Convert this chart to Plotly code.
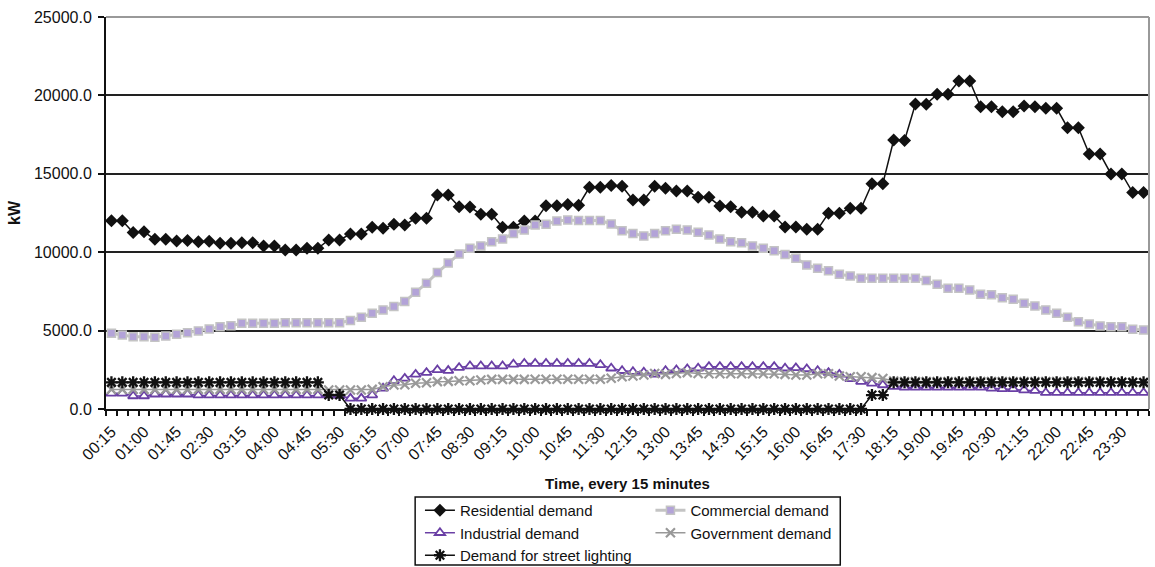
import plotly.graph_objects as go

# ---- data ----
times = []
for k in range(96):
    m = (k + 1) * 15
    times.append("%02d:%02d" % (m // 60, m % 60))
label_idx = list(range(0, 96, 3))

residential = [12000, 12000, 11250, 11300, 10820, 10820, 10720, 10740, 10670, 10700,
               10570, 10570, 10600, 10600, 10400, 10400, 10140, 10140, 10250, 10250,
               10780, 10780, 11160, 11160, 11590, 11520, 11780, 11740, 12160, 12160,
               13650, 13650, 12900, 12880, 12420, 12420, 11590, 11590, 11990, 11990,
               12970, 12970, 13050, 13000, 14140, 14140, 14250, 14200, 13330, 13330,
               14200, 14080, 13900, 13900, 13500, 13500, 12950, 12900, 12550, 12550,
               12310, 12310, 11610, 11610, 11460, 11460, 12480, 12480, 12800, 12800,
               14370, 14370, 17150, 17130, 19450, 19430, 20070, 20070, 20920, 20920,
               19280, 19280, 18960, 18960, 19320, 19280, 19180, 19180, 17940, 17940,
               16260, 16260, 14990, 14990, 13800, 13800]

commercial = [4830, 4720, 4610, 4610, 4580, 4650, 4760, 4870, 4980, 5100,
              5250, 5310, 5470, 5470, 5470, 5470, 5500, 5500, 5500, 5500,
              5500, 5500, 5640, 5850, 6100, 6320, 6530, 6850, 7440, 8020,
              8700, 9310, 9890, 10250, 10400, 10670, 10840, 11200, 11420, 11740,
              11780, 11990, 12050, 12020, 12020, 12020, 11800, 11370, 11200, 11030,
              11200, 11370, 11460, 11420, 11270, 11100, 10840, 10670, 10610, 10400,
              10250, 10100, 9850, 9610, 9190, 8970, 8820, 8590, 8480, 8340,
              8340, 8340, 8340, 8340, 8340, 8190, 7950, 7700, 7700, 7590,
              7320, 7280, 7100, 7000, 6740, 6570, 6320, 6100, 5850, 5570,
              5420, 5300, 5250, 5250, 5080, 5040]

industrial = [1000, 1000, 830, 830, 940, 940, 940, 940, 880, 880,
              880, 880, 880, 880, 880, 880, 880, 880, 880, 880,
              880, 850, 680, 680, 890, 1320, 1800, 1955, 2210, 2320,
              2490, 2450, 2640, 2740, 2740, 2740, 2740, 2850, 2900, 2900,
              2900, 2900, 2900, 2900, 2900, 2820, 2600, 2440, 2380, 2340,
              2210, 2440, 2490, 2550, 2600, 2700, 2700, 2700, 2700, 2700,
              2700, 2700, 2600, 2620, 2550, 2440, 2320, 2210, 1920, 1750,
              1640, 1530, 1430, 1380, 1380, 1380, 1380, 1380, 1380, 1380,
              1380, 1320, 1280, 1280, 1210, 1170, 1040, 1040, 1040, 1040,
              1040, 1040, 1040, 1040, 1040, 1040]

government = [1250, 1250, 1250, 1250, 1250, 1250, 1250, 1250, 1250, 1250,
              1250, 1250, 1250, 1250, 1250, 1250, 1250, 1250, 1250, 1250,
              1210, 1210, 1210, 1210, 1250, 1420, 1530, 1550, 1640, 1680,
              1745, 1760, 1800, 1800, 1850, 1890, 1890, 1890, 1890, 1900,
              1900, 1900, 1900, 1900, 1900, 1900, 1960, 2060, 2100, 2170,
              2270, 2210, 2270, 2320, 2270, 2250, 2250, 2250, 2250, 2250,
              2250, 2250, 2210, 2170, 2170, 2250, 2250, 2100, 2060, 2060,
              2000, 1950, 1780, 1750, 1750, 1750, 1750, 1750, 1750, 1750,
              1750, 1750, 1750, 1750, 1750, 1750, 1750, 1750, 1750, 1750,
              1750, 1750, 1720, 1720, 1700, 1680]

lighting = [1700] * 20 + [890, 890] + [0] * 48 + [890, 890] + [1700] * 24

x = list(range(len(times)))
FONT = "Liberation Sans, Arial, sans-serif"

fig = go.Figure()
fig.add_trace(go.Scatter(x=x, y=residential, name="Residential demand", mode="lines+markers",
                         line=dict(color="#111111", width=1.5),
                         marker=dict(symbol="diamond", size=10, color="#111111"),
                         legend="legend", cliponaxis=False))
fig.add_trace(go.Scatter(x=x, y=commercial, name="Commercial demand", mode="lines+markers",
                         line=dict(color="#c4c4c4", width=3),
                         marker=dict(symbol="square", size=8, color="#b3a3d8",
                                     line=dict(color="#c4c4c4", width=1.5)),
                         legend="legend2", cliponaxis=False))
fig.add_trace(go.Scatter(x=x, y=industrial, name="Industrial demand", mode="lines+markers",
                         line=dict(color="#6a3fa5", width=1.5),
                         marker=dict(symbol="triangle-up", size=9, color="white",
                                     line=dict(color="#6a3fa5", width=1.8)),
                         legend="legend", cliponaxis=False))
fig.add_trace(go.Scatter(x=x, y=government, name="Government demand", mode="lines+markers",
                         line=dict(color="#999999", width=1.5),
                         marker=dict(symbol="x-thin-open", size=9, color="#999999",
                                     line=dict(color="#999999", width=2.2)),
                         legend="legend2", cliponaxis=False))
fig.add_trace(go.Scatter(x=x, y=lighting, name="Demand for street lighting", mode="lines+markers",
                         line=dict(color="#111111", width=1.5),
                         marker=dict(symbol="asterisk-open", size=10, color="#111111",
                                     line=dict(color="#111111", width=2.3)),
                         legend="legend", cliponaxis=False))

LEG_Y = -0.2168
fig.update_layout(
    width=1155, height=567,
    margin=dict(l=106, r=6, t=17, b=158, autoexpand=False),
    paper_bgcolor="white", plot_bgcolor="white",
    font=dict(family=FONT, size=15, color="#111111"),
    showlegend=True,
    legend=dict(x=0.301, y=LEG_Y, xanchor="left", yanchor="top", orientation="v",
                font=dict(size=15, family=FONT), bgcolor="rgba(0,0,0,0)", borderwidth=0,
                tracegroupgap=0, itemwidth=30),
    legend2=dict(x=0.522, y=LEG_Y, xanchor="left", yanchor="top", orientation="v",
                 font=dict(size=15, family=FONT), bgcolor="rgba(0,0,0,0)", borderwidth=0,
                 tracegroupgap=0, itemwidth=30),
    xaxis=dict(range=[-0.5, 95.5], tickmode="array",
               tickvals=[x[i] for i in label_idx], ticktext=[times[i] for i in label_idx],
               tickangle=-45, ticks="", tickfont=dict(size=16), ticklabelstandoff=5,
               showline=True, linecolor="#111111", linewidth=2, showgrid=False, zeroline=False,
               minor=dict(tick0=-0.5, dtick=1, ticks="outside", ticklen=5, tickwidth=1.5,
                          tickcolor="#111111", showgrid=False),
               title=dict(text="<b>Time, every 15 minutes</b>", font=dict(size=15), standoff=16)),
    yaxis=dict(range=[0, 25000], dtick=5000, tickformat=".1f", ticks="outside", ticklen=6,
               tickwidth=1.5, tickcolor="#111111", tickfont=dict(size=16), ticklabelstandoff=3,
               showline=True, linecolor="#111111", linewidth=2,
               showgrid=True, gridcolor="#222222", gridwidth=1.5, zeroline=False,
               title=dict(text="<b>kW</b>", font=dict(size=16), standoff=9)),
    shapes=[
        dict(type="line", xref="paper", yref="paper", x0=0, x1=1, y0=1, y1=1,
             line=dict(color="#999999", width=2), layer="above"),
        dict(type="line", xref="paper", yref="paper", x0=1, x1=1, y0=0, y1=1,
             line=dict(color="#999999", width=2), layer="above"),
        dict(type="rect", xref="paper", yref="paper", x0=0.2964, x1=0.704, y0=-0.398, y1=-0.2245,
             line=dict(color="#111111", width=1.5), fillcolor="rgba(0,0,0,0)"),
    ],
)

fig.write_html("out.html")
